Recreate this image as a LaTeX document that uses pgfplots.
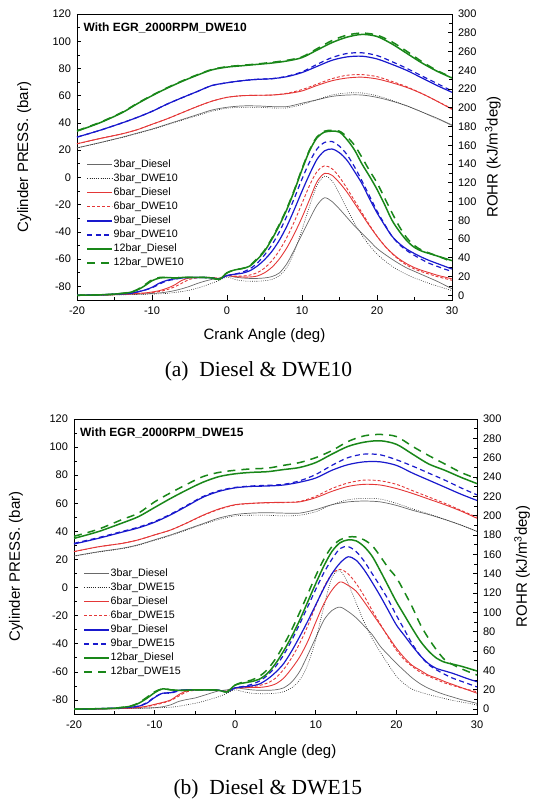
\documentclass[border=0pt]{standalone}
\usepackage{pgfplots}
\pgfplotsset{compat=1.18}
\usepackage{pgfplotstable}
\usepackage{fontspec}
\setmainfont{Liberation Sans}
\newfontfamily\capfont{Liberation Serif}
\definecolor{cgray}{RGB}{105,105,105}
\definecolor{cblk}{RGB}{40,40,40}
\definecolor{cred}{RGB}{228,55,55}
\definecolor{cblue}{RGB}{25,25,205}
\definecolor{cgreen}{RGB}{25,135,25}

% pressure, panel (a)
\pgfplotstableread{
x D3 W3 D6 W6 D9 W9 D12 W12
-20 21.7 21.5 24.7 24.7 29.6 29.6 34 34.3
-17 25.5 25.3 28.5 28.5 34.5 34.5 40 40.3
-14 29.5 29.3 32 32 40 40 47.5 47.8
-12 32.5 32.2 35 35 44 44 54 54.3
-10 35.5 35.2 39 39 48.5 48.5 60 60.3
-8 39 38.6 43 43 53.8 53.8 65.5 65.8
-6 42.5 42 47.5 47.5 58.5 58.5 70.5 70.8
-4 46 45.3 52 52 63 63 75 75.3
-2 49.5 48.6 56 56 67.5 67.5 79 79.3
0 51.5 50.8 58.8 58.8 69.5 69.5 81 81.3
2 52.5 51.5 60 60 71 71 82 82.3
4 52.5 51.5 60.3 60.3 72 72 83 83.3
6 52 51 60.5 60.5 72.5 72.5 84 84.5
8 52 51 61.5 61.8 74 74.3 85.5 86
10 54.5 53.5 63.5 64.5 77 77.5 88 88.5
12 57 57 67.5 68.5 81.5 83 93.5 94.5
14 59.5 60.5 71 72.5 86 88 99 100.5
16 60.5 62 73 75 88.5 91 103 104.5
18 60.5 62 73.6 75.5 89 91.5 105 106
20 58.8 60 72.3 74 87 89.5 103.5 104.5
22 56 56.5 69.5 70.5 83 85 98 99.5
24 52.5 52.5 66 66.5 78.5 80 91 92.5
26 48 48 61.5 61.5 73 74.5 84 85
28 43.5 43 56 56 67.5 69 78 78.5
30 38.5 38 50 50.5 62.5 63.5 73 73.5
}\pa

% pressure, panel (b)
\pgfplotstableread{
x D3 W3 D6 W6 D9 W9 D12 W12
-20 22.5 22.3 25.6 25.6 31 31.5 35 36.5
-17 25.5 25.2 29 29 35 35.5 39.8 41.5
-14 28 27.7 31.5 31.5 39.5 40 46 48.5
-12 30.5 30.2 34 34 42.5 43 50.5 53
-10 34 33.6 37.5 37.5 46.5 47 57 61
-8 37.5 37 41 41 51.8 52.3 63.5 67.5
-6 41.5 41 46 46 58 58.5 69.5 73.5
-4 45.5 45 51.5 51.3 64.3 64.8 75 79
-2 49.5 48.5 56 55.7 68.5 69 79 82
0 52 51 59 58.8 71 71.3 81 83.5
2 53 51.5 60 59.8 72 72.3 82 84.5
4 53.3 51.5 60.5 60.3 72.3 72.8 82.5 85
6 53 51 60.7 60.5 73 73.5 84 87
8 53 51.5 61 61.3 75 76 85.5 89
10 55.5 54 64 65 78 80.5 89 92.5
12 59 59 68.5 70.5 83.5 87 95 97.5
14 61 62.5 72 74.5 87.5 92.5 100.5 104
16 61.6 63.5 73.5 76.5 89.5 95 103.5 108
18 61 63 73 76 89.5 94.5 104.5 109
20 58.5 60 70.5 73.5 87 91 102 107.5
22 55 56 67 69 81.5 86.5 95 100.5
24 52 52.5 63 64.5 76.5 81.5 88 94
26 48.5 48.5 59 60 71.5 76.5 83.5 88
28 44.5 44.5 54.5 55 66.5 71 78.5 82
30 40 40 49.3 50 62 66 74 77.5
}\pb

% ROHR, panel (a)
\pgfplotstableread{
x D3 W3 D6 W6 D9 W9 D12 W12
-20 0 0 0 0 0 0 0 0
-17 0.2 0.2 0.3 0.3 0.5 0.5 0.5 0.5
-15 0.5 0.4 0.8 0.7 1.2 1.2 1.3 1.3
-13 1 0.7 1.5 1.3 2 2 3 3.2
-12 1.2 0.9 2 1.7 3.5 3.5 5.5 6
-11 1.5 1.1 2.5 2.2 5.5 5.5 10 11
-10 2 1.3 3.5 3 8.5 8 15.5 16.5
-9 2.5 1.6 5 4 13 12 18.4 19
-8 3.5 2 7.5 6 16 15.5 19 19
-7 5 3 11 9 17.5 17 18.5 18.5
-6 7 4 16 13 18.5 18.5 19 19
-5 9.5 5.5 18.5 17 19 19 19 19
-4 12.5 7.5 19 18.5 19 19 19 19
-3 15 10 19 19 19 19 19 19
-2 17 13 19 19 18.5 18.5 18.5 18.5
-1 18.4 16 18 18 17.5 17.5 17 17
0 21 19.5 21 21 21 21 24 24
1 19.5 17 20 20.5 22.5 22.5 27 27
2 18.5 15.5 19.5 20.5 23.5 24.5 28.5 28.5
3 18 15 19.5 21.5 26 28 31 31.5
4 18 15 20.5 24 31 34 38 39
5 18.5 15.5 24 29 38 43 47 48
6 20 17 30 37 47 54 60 61
7 24 21 39 48 59 68 75 76
8 34 30 51 62 74 85 92 93
9 49 47 66 79 92 104 112 113
10 65 70 83 98 111 124 134 135
11 81 95 102 117 129 142 154 155
12 96 117 121 132 145 156 168 169
13 104 127 130 138 154 163 174 175
14 100 122 128 135 156 164 175 176
15 92 108 120 126 152 159 174 175
16 83 92 110 114 144 150 166 169
17 74 77 98 101 132 137 155 160
18 66 64 86 88 119 122 140 147
19 58 53 74 75 103 106 127 133
20 50 44 63 63 88 90 113 120
21 44 37 53 53 75 76 97 104
22 38.5 31 45 44.5 63 63 80 88
23 33.5 26 38.5 37.5 55 54 68 73
24 29 22 33.5 32 49 47.5 58 61
25 25.5 18.5 29.5 28 44.5 42.5 51 53
26 22 15.5 26.5 25 40.5 38 47 48
27 18.5 12.5 24 22.5 37 34 44.5 45
28 15 10 21.5 20 34 31 42 42
29 11 7.5 19.5 18 31 28 39.5 39
30 7 5 17.5 16 28 25.5 37 35.5
}\ra

% ROHR, panel (b)
\pgfplotstableread{
x D3 W3 D6 W6 D9 W9 D12 W12
-20 0 0 0 0 0 0 0 0
-17 0.2 0.2 0.3 0.3 0.5 0.5 0.5 0.5
-15 0.4 0.4 0.6 0.6 1 1 1 1
-13 0.8 0.7 1.2 1.1 2 2 3 3.2
-12 1 0.9 1.8 1.6 3 3.2 6 6.5
-11 1.2 1.1 3 2.6 6 6.5 11 12
-10 1.5 1.3 5 4.3 12 12.5 17 18
-9 2.5 1.6 7 6.3 16.5 16.5 21 21
-8 4.5 2 9.5 9 17 16.5 20 20
-7 8 3 15 13.5 19.5 19 19.5 19.5
-6 10 4.5 19 18 20 20 19.5 19.5
-5 11.5 6 20 19.5 20 20 20 20
-4 14 8 20 20 20 20 20 20
-3 16.6 10.5 20 20 20 20 20 20
-2 19 13 19.5 19.5 19.5 19.5 19.5 19.5
-1 20 16.5 18.5 18.5 18 18 18 18
0 22 20 22 22 22 22 25 25
1 21 18 22 22 23 23.5 27 28
2 20 16.5 22.5 23 24 25.5 28.5 30
3 19.5 16 22.5 24.5 26 29 31 34
4 19.5 16 23.5 27 31 35 37 41
5 20 16.5 26 32 38 44 47 52
6 22 18 32 41 47 56 60 66
7 28 22 42 53 60 71 75 82
8 39 30 54 68 75 88 92 100
9 56 46 70 86 91 106 111 119
10 74 72 90 107 108 124 130 138
11 92 106 109 126 125 141 148 155
12 102 136 123 140 140 155 163 168
13 105.5 143 131.5 144.5 151 166 172 175
14 101 130 128 140 157.5 168 175 178
15 94.5 110 122 130 154 163 174 178
16 86 90 111 117 144 153 168 175
17 77 73 99 102 131 140 158 169
18 65 59 87 88 117 127 143 158
19 56 46 75 74 102 113 127 146
20 47.4 34 63 61 87 97 111 136
21 39.5 26 53 51 76 82 97 121
22 32 20.5 45 44 65 67 83 105
23 26 17.5 40 38 55 55 70 87
24 21.5 15 35 34 47 46 60 73
25 18 13 32 30.5 42 40.5 52.6 61
26 15 11 28.5 27 39.5 36 48.5 51
27 12.5 9 25.5 24.5 37 32 46.5 46
28 10 7.5 22.5 22 34 29 44.5 42
29 8 6 19.5 20 31 26 42 38.5
30 6 4.3 16.5 18 28.4 23 39.5 35.3
}\rb

\pgfplotsset{
  s3d/.style={draw=cgray, line width=0.7pt},
  s3w/.style={draw=cblk, line width=0.6pt, dash pattern=on 0.8pt off 1.4pt},
  s6d/.style={draw=cred, line width=0.9pt},
  s6w/.style={draw=cred, line width=0.9pt, dash pattern=on 3pt off 2pt},
  s9d/.style={draw=cblue, line width=1.2pt},
  s9w/.style={draw=cblue, line width=1.2pt, dash pattern=on 5pt off 3.5pt},
  s12d/.style={draw=cgreen, line width=1.5pt},
  s12w/.style={draw=cgreen, line width=1.5pt, dash pattern=on 8pt off 6pt},
  pbase/.style={
    scale only axis, anchor=south west,
    xmin=-20, xmax=30, xtick={-20,-10,0,10,20,30}, minor x tick num=1,
    /pgf/number format/assume math mode=true,
    tick label style={font=\fontsize{11}{12}\selectfont},
    label style={font=\fontsize{15}{17}\selectfont},
    axis line style={line width=0.9pt},
    every tick/.style={line width=0.7pt},
    major tick length=4.5pt, minor tick length=2.8pt,
    clip mode=individual,
  },
  pleft/.style={
    pbase, ymin=-90, ymax=120, ytick={-80,-60,...,120}, minor y tick num=1,
    xtick pos=left, ytick pos=left,
    xlabel={Crank Angle (deg)}, ylabel={Cylinder PRESS. (bar)},
    xticklabel style={yshift=-3.5pt}, yticklabel style={xshift=-2.5pt},
    legend cell align=left,
    legend image code/.code={%
      \draw[##1] (0pt,0.3pt) -- (25pt,0.3pt);
      \draw[##1] (0pt,0pt) -- (25pt,0pt);
      \draw[##1] (0pt,-0.3pt) -- (25pt,-0.3pt);},
    legend style={draw=none, fill=none, anchor=north west,
      font=\fontsize{10.7}{12}\selectfont, inner sep=0pt, row sep=2.7pt,
      nodes={inner sep=0.6pt, text height=8pt, text depth=2.2pt}},
  },
  pright/.style={
    pbase, axis x line=none, axis y line*=right,
    ymin=-5, ymax=300, ytick={0,20,...,300}, minor y tick num=1,
    ylabel={ROHR (kJ/m\textsuperscript{3}deg)},
    yticklabel style={xshift=2.5pt},
  },
}

\begin{document}
\begin{tikzpicture}
\useasboundingbox (0,0) rectangle (540pt,808pt);

% ---------------- panel (a) ----------------
\begin{axis}[pleft, at={(77pt,508pt)}, width=375pt, height=286pt,
  xlabel style={at={(axis description cs:0.5,-0.125)}, anchor=center},
  ylabel style={at={(axis description cs:-0.141,0.5)}, anchor=center},
  legend style={at={(axis description cs:0.025,0.495)}}]
\addplot[s3d, smooth] table[x=x,y=D3]{\pa}; \addlegendentry{3bar\_Diesel}
\addplot[s3w, smooth] table[x=x,y=W3]{\pa}; \addlegendentry{3bar\_DWE10}
\addplot[s6d, smooth] table[x=x,y=D6]{\pa}; \addlegendentry{6bar\_Diesel}
\addplot[s6w, smooth] table[x=x,y=W6]{\pa}; \addlegendentry{6bar\_DWE10}
\addplot[s9d, smooth] table[x=x,y=D9]{\pa}; \addlegendentry{9bar\_Diesel}
\addplot[s9w, smooth] table[x=x,y=W9]{\pa}; \addlegendentry{9bar\_DWE10}
\addplot[s12d, smooth] table[x=x,y=D12]{\pa}; \addlegendentry{12bar\_Diesel}
\addplot[s12w, smooth] table[x=x,y=W12]{\pa}; \addlegendentry{12bar\_DWE10}
\node[anchor=west, inner sep=0pt, font=\bfseries\fontsize{12}{14}\selectfont] at (axis description cs:0.017,0.95) {With EGR\_2000RPM\_DWE10};
\node[font=\capfont\fontsize{21.5}{24}\selectfont] at (axis description cs:0.484,-0.251) {(a)\ \ Diesel \& DWE10};
\end{axis}
\begin{axis}[pright, at={(77pt,508pt)}, width=375pt, height=286pt,
  ylabel style={at={(axis description cs:1.109,0.5)}, anchor=center}]
\addplot[s3d, smooth] table[x=x,y=D3]{\ra};
\addplot[s3w, smooth] table[x=x,y=W3]{\ra};
\addplot[s6d, smooth] table[x=x,y=D6]{\ra};
\addplot[s6w, smooth] table[x=x,y=W6]{\ra};
\addplot[s9d, smooth] table[x=x,y=D9]{\ra};
\addplot[s9w, smooth] table[x=x,y=W9]{\ra};
\addplot[s12d, smooth] table[x=x,y=D12]{\ra};
\addplot[s12w, smooth] table[x=x,y=W12]{\ra};
\end{axis}

% ---------------- panel (b) ----------------
\begin{axis}[pleft, at={(74pt,94pt)}, width=403pt, height=295pt,
  xlabel style={at={(axis description cs:0.5,-0.129)}, anchor=center},
  ylabel style={at={(axis description cs:-0.144,0.5)}, anchor=center},
  legend style={at={(axis description cs:0.023263,0.496847)}}]
\addplot[s3d, smooth] table[x=x,y=D3]{\pb}; \addlegendentry{3bar\_Diesel}
\addplot[s3w, smooth] table[x=x,y=W3]{\pb}; \addlegendentry{3bar\_DWE15}
\addplot[s6d, smooth] table[x=x,y=D6]{\pb}; \addlegendentry{6bar\_Diesel}
\addplot[s6w, smooth] table[x=x,y=W6]{\pb}; \addlegendentry{6bar\_DWE15}
\addplot[s9d, smooth] table[x=x,y=D9]{\pb}; \addlegendentry{9bar\_Diesel}
\addplot[s9w, smooth] table[x=x,y=W9]{\pb}; \addlegendentry{9bar\_DWE15}
\addplot[s12d, smooth] table[x=x,y=D12]{\pb}; \addlegendentry{12bar\_Diesel}
\addplot[s12w, smooth] table[x=x,y=W12]{\pb}; \addlegendentry{12bar\_DWE15}
\node[anchor=west, inner sep=0pt, font=\bfseries\fontsize{12}{14}\selectfont] at (axis description cs:0.015,0.952) {With EGR\_2000RPM\_DWE15};
\node[font=\capfont\fontsize{21.5}{24}\selectfont] at (axis description cs:0.481,-0.254) {(b)\ \ Diesel \& DWE15};
\end{axis}
\begin{axis}[pright, at={(74pt,94pt)}, width=403pt, height=295pt,
  ylabel style={at={(axis description cs:1.112,0.5)}, anchor=center}]
\addplot[s3d, smooth] table[x=x,y=D3]{\rb};
\addplot[s3w, smooth] table[x=x,y=W3]{\rb};
\addplot[s6d, smooth] table[x=x,y=D6]{\rb};
\addplot[s6w, smooth] table[x=x,y=W6]{\rb};
\addplot[s9d, smooth] table[x=x,y=D9]{\rb};
\addplot[s9w, smooth] table[x=x,y=W9]{\rb};
\addplot[s12d, smooth] table[x=x,y=D12]{\rb};
\addplot[s12w, smooth] table[x=x,y=W12]{\rb};
\end{axis}
\end{tikzpicture}
\end{document}
